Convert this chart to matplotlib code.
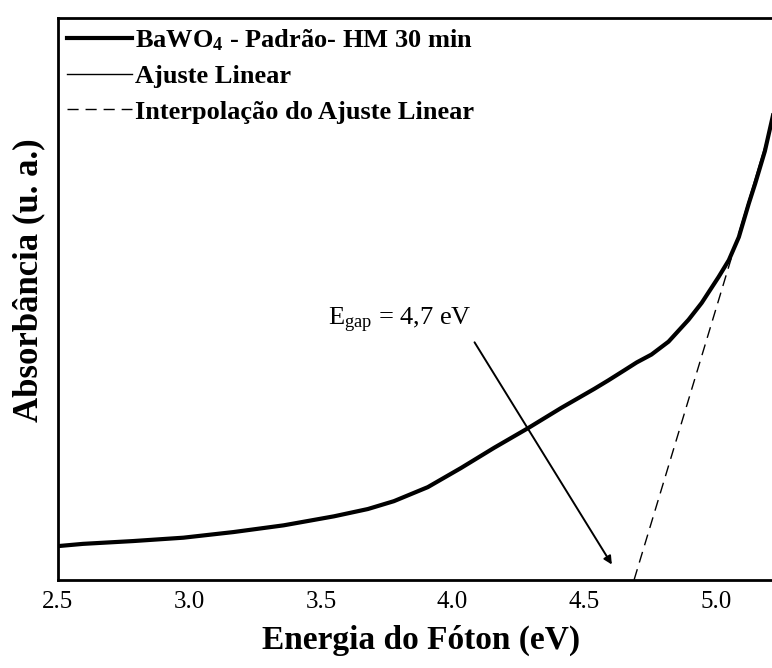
import matplotlib
matplotlib.use('Agg')
import matplotlib.pyplot as plt
import numpy as np

plt.rcParams['font.family'] = 'Liberation Serif'
plt.rcParams['mathtext.fontset'] = 'custom'
plt.rcParams['mathtext.rm'] = 'Liberation Serif'
plt.rcParams['mathtext.it'] = 'Liberation Serif:italic'
plt.rcParams['mathtext.bf'] = 'Liberation Serif:bold'

# absorbance curve (arbitrary units)
energia = [2.50, 2.595, 2.786, 2.977, 3.167, 3.358, 3.549, 3.678, 3.777, 3.906,
           4.032, 4.158, 4.287, 4.413, 4.539, 4.592, 4.653, 4.70, 4.756, 4.821,
           4.897, 4.947, 5.011, 5.050, 5.088, 5.126, 5.150, 5.187, 5.22]
absorb = [0.060, 0.064, 0.069, 0.075, 0.085, 0.097, 0.113, 0.126, 0.140, 0.165,
          0.199, 0.235, 0.270, 0.306, 0.340, 0.355, 0.373, 0.387, 0.401, 0.424,
          0.463, 0.493, 0.539, 0.569, 0.610, 0.670, 0.705, 0.763, 0.831]

# linear fit of the absorption edge
egap = 4.69
slope = 1.55
fit_x = [5.088, 5.22]
interp_x = [egap, 5.088]

fig = plt.figure(figsize=(7.72, 6.68), dpi=100)
ax = fig.add_axes([0.075, 0.132, 0.927, 0.841])

ax.plot(energia, absorb, 'k-', lw=3, solid_joinstyle='round',
        label=r'BaWO$_{\mathbf{4}}$ - Padrão- HM 30 min')
ax.plot(fit_x, slope*(np.array(fit_x) - egap), 'k-', lw=1, label='Ajuste Linear')
ax.plot(interp_x, slope*(np.array(interp_x) - egap), 'k--', lw=1, dashes=(8, 5),
        label='Interpolação do Ajuste Linear')

ax.annotate(r'E$_{\mathrm{gap}}$ = 4,7 eV', xy=(4.611, 0.023), xytext=(3.525, 0.452),
            fontsize=19, ha='left', va='baseline')
ax.annotate('', xy=(4.611, 0.023), xytext=(4.078, 0.427),
            arrowprops=dict(arrowstyle='-|>', color='k', lw=1.4, mutation_scale=12))

ax.set_xlim(2.5, 5.22)
ax.set_ylim(0, 1)
ax.set_xticks([2.5, 3.0, 3.5, 4.0, 4.5, 5.0])
ax.set_xticklabels(['2.5', '3.0', '3.5', '4.0', '4.5', '5.0'])
ax.set_yticks([])
ax.tick_params(axis='x', length=0, labelsize=18, pad=8)
for s in ax.spines.values():
    s.set_linewidth(2)

ax.set_xlabel('Energia do Fóton (eV)', fontsize=24, fontweight='bold')
ax.set_ylabel('Absorbância (u. a.)', fontsize=25, fontweight='bold')
ax.xaxis.set_label_coords(0.508, -0.080)
ax.yaxis.set_label_coords(-0.017, 0.534)

leg = ax.legend(loc='upper left', frameon=False, prop={'size': 19, 'weight': 'bold'},
                handlelength=2.46, handletextpad=0.12, borderaxespad=0.0,
                borderpad=0.35, labelspacing=0.45)

fig.savefig('out.png', dpi=100)
